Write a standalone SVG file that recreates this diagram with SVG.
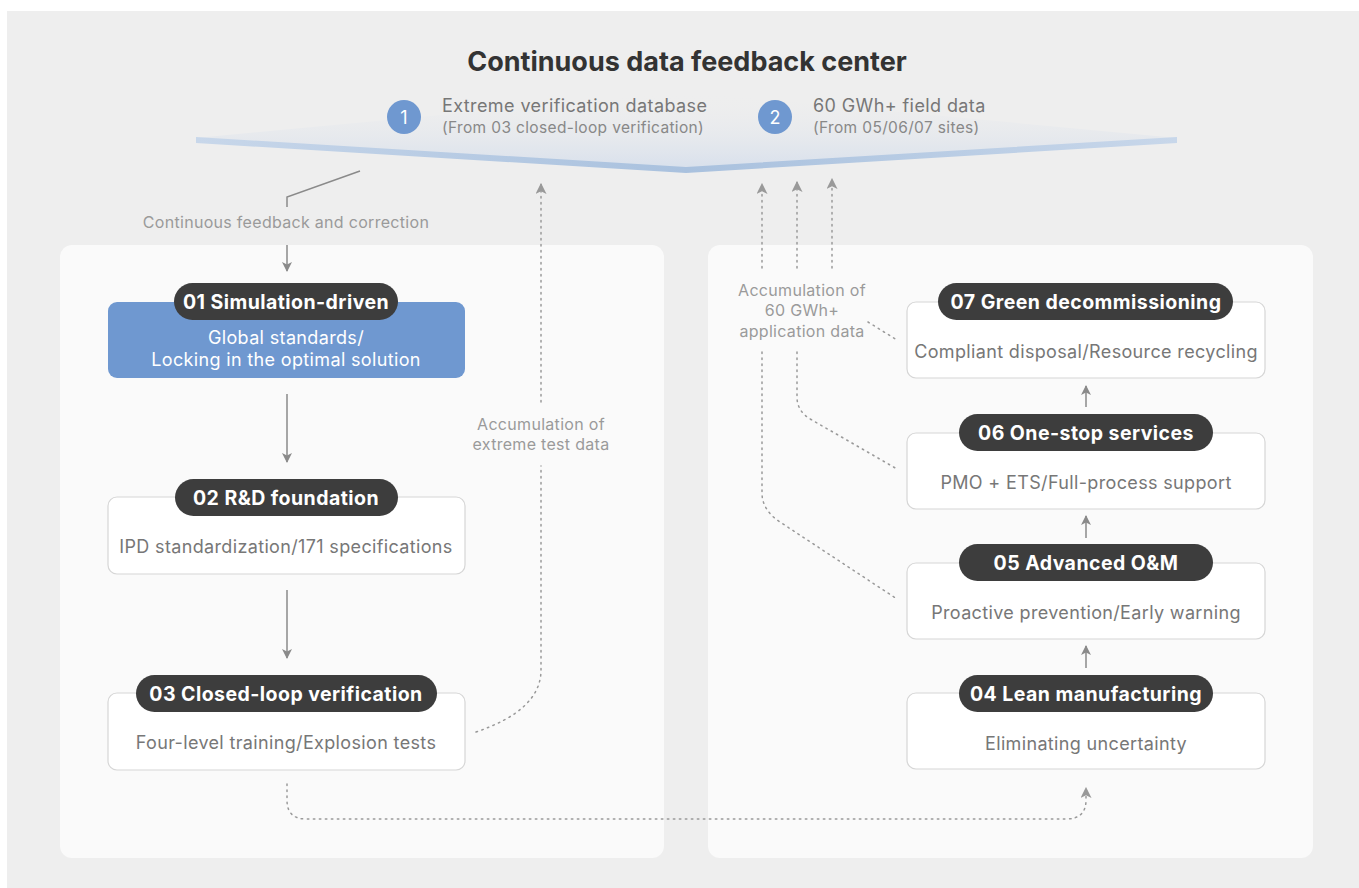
<svg xmlns="http://www.w3.org/2000/svg" width="1359" height="888" viewBox="0 0 1359 888">
<defs>
<style>
.title{font-family:Inter,"Liberation Sans",sans-serif;font-weight:700;font-size:27px;fill:#333;}
.pilltxt{font-family:Inter,"Liberation Sans",sans-serif;font-weight:700;font-size:19.5px;letter-spacing:0.45px;fill:#fff;}
.body{font-family:Inter,"Liberation Sans",sans-serif;font-size:18px;letter-spacing:0.35px;fill:#777;}
.bodyw{font-family:Inter,"Liberation Sans",sans-serif;font-size:18px;letter-spacing:0.35px;fill:#fff;}
.lbl{font-family:Inter,"Liberation Sans",sans-serif;font-size:16px;letter-spacing:0.3px;fill:#9a9a9a;}
.db{font-family:Inter,"Liberation Sans",sans-serif;font-size:18px;letter-spacing:0.4px;fill:#777;}
.dbs{font-family:Inter,"Liberation Sans",sans-serif;font-size:15.5px;letter-spacing:0.35px;fill:#888;}
.num{font-family:Inter,"Liberation Sans",sans-serif;font-size:18px;fill:#fff;}
.box{fill:#fff;stroke:#d6d6d6;stroke-width:1.2;}
.pill{fill:#3d3d3d;}
.solid{fill:none;stroke:#8a8a8a;stroke-width:1.5;}
.dot{fill:none;stroke:#999;stroke-width:1.5;stroke-dasharray:1.5 4.5;stroke-linecap:round;}
</style>
<marker id="ah" viewBox="0 0 10 10" refX="9" refY="5" markerWidth="10" markerHeight="10" markerUnits="userSpaceOnUse" orient="auto">
<path d="M0,0 L10,5 L0,10 L2.5,5 Z" fill="#8a8a8a"/>
</marker>
<marker id="ahd" viewBox="0 0 10 10" refX="9" refY="5" markerWidth="11" markerHeight="11" markerUnits="userSpaceOnUse" orient="auto">
<path d="M0,0 L10,5 L0,10 L2.5,5 Z" fill="#999"/>
</marker>
<linearGradient id="face" x1="0" y1="0" x2="0" y2="1">
<stop offset="0" stop-color="#eeeeee" stop-opacity="0"/>
<stop offset="1" stop-color="#d8e0ec"/>
</linearGradient>
<linearGradient id="band" x1="0" y1="0" x2="1" y2="0">
<stop offset="0" stop-color="#c8d7ea"/>
<stop offset="0.5" stop-color="#a9c1de"/>
<stop offset="1" stop-color="#c8d7ea"/>
</linearGradient>
</defs>
<rect x="0" y="0" width="1359" height="888" fill="#fff"/>
<rect x="7" y="11" width="1352" height="877" fill="#eeeeee"/>
<g id="panel-left"><rect x="60" y="245" width="604" height="613" rx="12" fill="#fafafa"/></g>
<g id="panel-right"><rect x="708" y="245" width="605" height="613" rx="12" fill="#fafafa"/></g>

<g id="center">
<text class="title" x="687" y="71" text-anchor="middle">Continuous data feedback center</text>
<polygon points="196,138 686,92 1177,138 686,168" fill="url(#face)"/>
<polygon points="196,137 686,167 1177,137 1177,143 686,173 196,143" fill="url(#band)"/>
<circle cx="404" cy="117" r="17" fill="#6f98d0"/>
<text class="num" x="404" y="123.5" text-anchor="middle">1</text>
<text class="db" x="442" y="112">Extreme verification database</text>
<text class="dbs" x="442" y="133">(From 03 closed-loop verification)</text>
<circle cx="775" cy="117" r="17" fill="#6f98d0"/>
<text class="num" x="775" y="123.5" text-anchor="middle">2</text>
<text class="db" x="813" y="112">60 GWh+ field data</text>
<text class="dbs" x="813" y="133">(From 05/06/07 sites)</text>
</g>

<g id="node01">
<rect x="108" y="302" width="357" height="76" rx="9" fill="#6f98d0"/>
<rect class="pill" x="174" y="283" width="224" height="37" rx="18.5"/>
<text class="pilltxt" x="286" y="308.5" text-anchor="middle">01 Simulation-driven</text>
<text class="bodyw" x="286" y="344" text-anchor="middle">Global standards/</text>
<text class="bodyw" x="286" y="366" text-anchor="middle">Locking in the optimal solution</text>
</g>
<g id="node02">
<rect class="box" x="108" y="497" width="357" height="77" rx="9"/>
<rect class="pill" x="175" y="479" width="223" height="37" rx="18.5"/>
<text class="pilltxt" x="286" y="504.5" text-anchor="middle">02 R&amp;D foundation</text>
<text class="body" x="286" y="553" text-anchor="middle">IPD standardization/171 specifications</text>
</g>
<g id="node03">
<rect class="box" x="108" y="693" width="357" height="77" rx="9"/>
<rect class="pill" x="136" y="675" width="301" height="37" rx="18.5"/>
<text class="pilltxt" x="286" y="700.5" text-anchor="middle">03 Closed-loop verification</text>
<text class="body" x="286" y="749" text-anchor="middle">Four-level training/Explosion tests</text>
</g>
<g id="node07">
<rect class="box" x="907" y="302" width="358" height="76" rx="9"/>
<rect class="pill" x="938" y="283" width="295" height="37" rx="18.5"/>
<text class="pilltxt" x="1086" y="308.5" text-anchor="middle">07 Green decommissioning</text>
<text class="body" x="1086" y="358" text-anchor="middle">Compliant disposal/Resource recycling</text>
</g>
<g id="node06">
<rect class="box" x="907" y="433" width="358" height="76" rx="9"/>
<rect class="pill" x="959" y="414" width="254" height="37" rx="18.5"/>
<text class="pilltxt" x="1086" y="439.5" text-anchor="middle">06 One-stop services</text>
<text class="body" x="1086" y="489" text-anchor="middle">PMO + ETS/Full-process support</text>
</g>
<g id="node05">
<rect class="box" x="907" y="563" width="358" height="76" rx="9"/>
<rect class="pill" x="959" y="544" width="254" height="37" rx="18.5"/>
<text class="pilltxt" x="1086" y="569.5" text-anchor="middle">05 Advanced O&amp;M</text>
<text class="body" x="1086" y="619" text-anchor="middle">Proactive prevention/Early warning</text>
</g>
<g id="node04">
<rect class="box" x="907" y="693" width="358" height="76" rx="9"/>
<rect class="pill" x="959" y="675" width="254" height="37" rx="18.5"/>
<text class="pilltxt" x="1086" y="700.5" text-anchor="middle">04 Lean manufacturing</text>
<text class="body" x="1086" y="750" text-anchor="middle">Eliminating uncertainty</text>
</g>

<g id="connectors">
<polyline class="solid" points="360,171 287,197 287,207"/>
<text class="lbl" x="286" y="228" text-anchor="middle">Continuous feedback and correction</text>
<line class="solid" x1="287" y1="245" x2="287" y2="271" marker-end="url(#ah)"/>
<line class="solid" x1="287" y1="394" x2="287" y2="462" marker-end="url(#ah)"/>
<line class="solid" x1="287" y1="590" x2="287" y2="658" marker-end="url(#ah)"/>
<line class="solid" x1="1086" y1="407" x2="1086" y2="386" marker-end="url(#ah)"/>
<line class="solid" x1="1086" y1="538" x2="1086" y2="516" marker-end="url(#ah)"/>
<line class="solid" x1="1086" y1="668" x2="1086" y2="646" marker-end="url(#ah)"/>

<path class="dot" d="M476,732 Q541,710 541,670 L541,466"/>
<text class="lbl" x="541" y="430" text-anchor="middle">Accumulation of</text>
<text class="lbl" x="541" y="450" text-anchor="middle">extreme test data</text>
<line class="dot" x1="541" y1="402" x2="541" y2="184" marker-end="url(#ahd)"/>

<path class="dot" d="M287,784 L287,800 Q287,819 306,819 L1066,819 Q1086,819 1086,800 L1086,788" marker-end="url(#ahd)"/>

<line class="dot" x1="762" y1="268" x2="762" y2="184" marker-end="url(#ahd)"/>
<line class="dot" x1="797" y1="268" x2="797" y2="182" marker-end="url(#ahd)"/>
<line class="dot" x1="832" y1="268" x2="832" y2="179" marker-end="url(#ahd)"/>
<text class="lbl" x="802" y="296" text-anchor="middle">Accumulation of</text>
<text class="lbl" x="802" y="316" text-anchor="middle">60 GWh+</text>
<text class="lbl" x="802" y="337" text-anchor="middle">application data</text>
<line class="dot" x1="868" y1="322" x2="897" y2="340"/>
<path class="dot" d="M797,352 L797,397 Q797,412 812,420 L897,469"/>
<path class="dot" d="M762,352 L762,493 Q762,510 780,522 L897,599"/>
</g>
</svg>
